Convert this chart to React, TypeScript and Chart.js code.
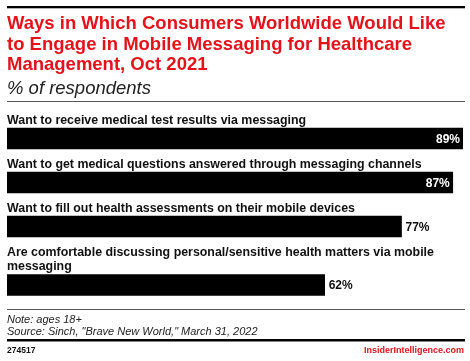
import React, { useEffect, useRef } from "react";
import { Chart, registerables, CategoryScale } from "chart.js";

// ---- data ----
const categories: string[][] = [
  ["Want to receive medical test results via messaging"],
  ["Want to get medical questions answered through messaging channels"],
  ["Want to fill out health assessments on their mobile devices"],
  ["Are comfortable discussing personal/sensitive health matters via mobile", "messaging"],
];
const values: number[] = [89, 87, 77, 62];
const titleLines: string[] = [
  "Ways in Which Consumers Worldwide Would Like",
  "to Engage in Mobile Messaging for Healthcare",
  "Management, Oct 2021",
];
const subtitle = "% of respondents";
const noteLines: string[] = ["Note: ages 18+", 'Source: Sinch, "Brave New World," March 31, 2022'];
const chartCode = "274517";
const brand = "InsiderIntelligence.com";

// ---- styling ----
const RED = "#e3121b";
const FONT = '"Liberation Sans", Arial, sans-serif';
const LINE_H = 14.5;
const ROW_EXTRA = 29.5;
const BAR_GAP = 3.5;
const BAR_H = 21;

class RowScale extends CategoryScale {
  static id = "rowcat";
  rowTop(i: number) {
    let y = (this as any).top;
    for (let j = 0; j < i; j++) y += categories[j].length * LINE_H + ROW_EXTRA;
    return y;
  }
  getPixelForValue(value: any) {
    const i = typeof value === "number" ? Math.round(value) : (this as any).parse(value);
    const idx = Math.max(0, Math.min(categories.length - 1, i));
    return this.rowTop(idx) + categories[idx].length * LINE_H + BAR_GAP + BAR_H / 2;
  }
}

Chart.register(...registerables, RowScale as any);

const decor = {
  id: "decor",
  beforeDraw(chart: any) {
    const ctx = chart.ctx as CanvasRenderingContext2D;
    ctx.save();
    ctx.fillStyle = "#fff";
    ctx.fillRect(0, 0, chart.width, chart.height);
    // top rule
    ctx.fillStyle = "#000";
    ctx.fillRect(7, 6, 458, 2.3);
    // title
    ctx.fillStyle = RED;
    ctx.font = `bold 18.5px ${FONT}`;
    ctx.textBaseline = "alphabetic";
    ctx.textAlign = "left";
    const tb = [29, 49.7, 70.3];
    titleLines.forEach((t, i) => ctx.fillText(t, 7, tb[i]));
    // subtitle
    ctx.fillStyle = "#222";
    ctx.font = `italic 18.5px ${FONT}`;
    ctx.fillText(subtitle, 7, 93.5);
    // thin rule
    ctx.fillStyle = "#555";
    ctx.fillRect(7, 101, 458, 1);
    // footer
    ctx.fillRect(7, 309, 458, 1);
    ctx.fillStyle = "#222";
    ctx.font = `italic 11px ${FONT}`;
    ctx.fillText(noteLines[0], 7, 322.7);
    ctx.fillText(noteLines[1], 7, 335);
    ctx.fillStyle = "#000";
    ctx.fillRect(7, 339, 458, 2.5);
    ctx.font = `bold 8.5px ${FONT}`;
    ctx.fillStyle = "#111";
    ctx.fillText(chartCode, 7, 352.7);
    ctx.font = `bold 9px ${FONT}`;
    ctx.fillStyle = RED;
    ctx.textAlign = "right";
    ctx.fillText(brand, 464, 352.7);
    ctx.restore();
  },
  afterDatasetsDraw(chart: any) {
    const ctx = chart.ctx as CanvasRenderingContext2D;
    const meta = chart.getDatasetMeta(0);
    const area = chart.chartArea;
    ctx.save();
    ctx.textBaseline = "alphabetic";
    meta.data.forEach((el: any, i: number) => {
      const top = el.y - el.height / 2;
      const lines = categories[i];
      ctx.font = `bold 12.4px ${FONT}`;
      ctx.fillStyle = "#111";
      ctx.textAlign = "left";
      lines.forEach((ln, k) => {
        ctx.fillText(ln, area.left, top - 4.5 - (lines.length - 1 - k) * LINE_H);
      });
      const txt = `${values[i]}%`;
      ctx.font = `bold 12px ${FONT}`;
      const w = ctx.measureText(txt).width;
      if (el.x + 4 + w > area.right) {
        ctx.fillStyle = "#fff";
        ctx.textAlign = "right";
        ctx.fillText(txt, el.x - 3, el.y + 4.2);
      } else {
        ctx.fillStyle = "#111";
        ctx.textAlign = "left";
        ctx.fillText(txt, el.x + 4, el.y + 4.2);
      }
    });
    ctx.restore();
  },
};

export default function App() {
  const ref = useRef<HTMLCanvasElement | null>(null);
  useEffect(() => {
    if (!ref.current) return;
    const chart = new Chart(ref.current, {
      type: "bar",
      data: {
        labels: categories as any,
        datasets: [
          {
            data: values,
            backgroundColor: "#000",
            borderWidth: 0,
            barThickness: BAR_H,
          },
        ],
      },
      options: {
        indexAxis: "y",
        animation: false,
        responsive: false,
        devicePixelRatio: 1,
        layout: { padding: { left: 7, right: 7, top: 110, bottom: 60.5 } },
        scales: {
          x: { min: 0, max: 89, display: false },
          y: { type: "rowcat" as any, display: false },
        },
        plugins: {
          legend: { display: false },
          tooltip: { enabled: false },
          title: { display: false },
        },
      },
      plugins: [decor],
    });
    return () => chart.destroy();
  }, []);
  return (
    <div style={{ position: "fixed", left: 0, top: 0, width: 470, height: 361, background: "#fff" }}>
      <canvas ref={ref} width={470} height={361} style={{ display: "block" }} />
    </div>
  );
}
